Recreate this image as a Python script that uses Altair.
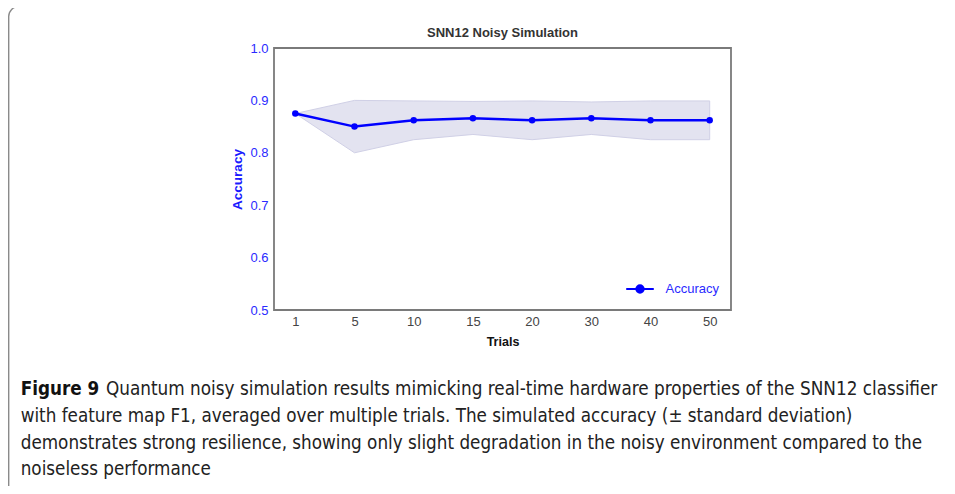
import altair as alt
import pandas as pd

trials = ["1", "5", "10", "15", "20", "30", "40", "50"]
accuracy = [0.875, 0.850, 0.862, 0.866, 0.862, 0.866, 0.862, 0.862]
upper = [0.875, 0.900, 0.899, 0.898, 0.899, 0.897, 0.899, 0.899]
lower = [0.875, 0.800, 0.825, 0.835, 0.825, 0.835, 0.825, 0.825]

title_text = "SNN12 Noisy Simulation"
x_title = "Trials"
y_title = "Accuracy"
series_name = "Accuracy"
caption_label = "Figure 9"
caption_lines = [
    "Quantum noisy simulation results mimicking real-time hardware properties of the SNN12 classifier",
    "with feature map F1, averaged over multiple trials. The simulated accuracy (\u00b1 standard deviation)",
    "demonstrates strong resilience, showing only slight degradation in the noisy environment compared to the",
    "noiseless performance",
]

df = pd.DataFrame({"Trials": trials, "Accuracy": accuracy, "upper": upper, "lower": lower,
                   "series": [series_name] * len(trials)})

W, H = 457, 262
PAD_L, PAD_T = 266, 40
CW, CH = 939, 478

FONT = "Liberation Sans"
xscale = alt.Scale(type="point", padding=0.36)
yscale = alt.Scale(domain=[0.5, 1.0])

xaxis = alt.Axis(labelAngle=0, labelColor="#444444", labelFontSize=13, labelPadding=5,
                 titleFontSize=12.5, titleColor="#111111", titleFontWeight="bold", titlePadding=7,
                 ticks=False, domain=False, grid=False, labelFont=FONT, titleFont=FONT)
yaxis = alt.Axis(values=[0.5, 0.6, 0.7, 0.8, 0.9, 1.0], format=".1f", labelColor="#2a2aff",
                 labelFontSize=13, labelPadding=6, titleColor="#1a1aff", titleFontSize=13.5,
                 titleFontWeight="bold", titlePadding=5, ticks=False, domain=False, grid=False,
                 labelFont=FONT, titleFont=FONT)

base = alt.Chart(df)

band = base.mark_area(color="#e3e3f0", opacity=1, stroke="#d0d0e6", strokeWidth=1).encode(
    x=alt.X("Trials:O", sort=trials, scale=xscale, axis=xaxis, title=x_title),
    y=alt.Y("upper:Q", scale=yscale, axis=yaxis, title=y_title),
    y2="lower:Q",
)

color = alt.Color("series:N", scale=alt.Scale(domain=[series_name], range=["#0000ff"]),
                  legend=alt.Legend(title=None, orient="none", legendX=351, legendY=226,
                                    symbolType="M-1,0L1,0M-0.26,0A0.26,0.26 0 1,0 0.26,0A0.26,0.26 0 1,0 -0.26,0",
                                    symbolSize=760, symbolStrokeWidth=2.2, symbolFillColor="#0000ff",
                                    symbolStrokeColor="#0000ff", labelColor="#2a2aff", labelFontSize=13,
                                    labelFont=FONT, labelOffset=10.5, padding=0))

line = base.mark_line(strokeWidth=2.5).encode(
    x=alt.X("Trials:O", sort=trials, scale=xscale),
    y=alt.Y("Accuracy:Q", scale=yscale),
    color=color,
)
pts = base.mark_point(filled=True, size=42, opacity=1).encode(
    x=alt.X("Trials:O", sort=trials, scale=xscale),
    y=alt.Y("Accuracy:Q", scale=yscale),
    color=alt.Color("series:N", scale=alt.Scale(domain=[series_name], range=["#0000ff"]), legend=None),
)

one = pd.DataFrame({"k": [0]})

box = alt.Chart(one).mark_rect(fill=None, stroke="#8a8a8a", strokeWidth=1.4, cornerRadius=10).encode(
    x=alt.value(-PAD_L + 0.7), x2=alt.value(CW - PAD_L + 40),
    y=alt.value(-PAD_T - 1.5), y2=alt.value(CH - PAD_T + 40),
)

title_mark = alt.Chart(one).mark_text(align="center", baseline="middle", fontSize=13, fontWeight="bold",
                                      font=FONT, color="#333333").encode(
    x=alt.value(W / 2), y=alt.value(-15.3), text=alt.value(title_text))

cap_font = "'DejaVu Sans Condensed', 'DejaVu Sans', sans-serif"
CAP_FS = 18.7
cap_bold = alt.Chart(one).mark_text(align="left", baseline="middle", fontSize=CAP_FS, fontWeight="bold",
                                    font=cap_font, color="#111111").encode(
    x=alt.value(-253.3), y=alt.value(341), text=alt.value(caption_label))
cap_first = alt.Chart(one).mark_text(align="left", baseline="middle", fontSize=18.75,
                                     font=cap_font, color="#222222").encode(
    x=alt.value(-168), y=alt.value(341), text=alt.value(caption_lines[0]))
cap_rest = alt.Chart(one).mark_text(align="left", baseline="middle", fontSize=CAP_FS, lineHeight=26.5,
                                    font=cap_font, color="#222222", lineBreak="\n").encode(
    x=alt.value(-253.3), y=alt.value(368), text=alt.value("\n".join(caption_lines[1:])))

chart = alt.layer(box, band, line, pts, title_mark, cap_bold, cap_first, cap_rest).properties(
    width=W, height=H,
    background="white",
    autosize=alt.AutoSizeParams(type="none"),
    padding={"left": PAD_L, "top": PAD_T, "right": CW - PAD_L - W, "bottom": CH - PAD_T - H},
).configure_view(stroke="#7a7a7a", strokeWidth=1.8)

chart.save("out.html", embed_options={"renderer": "svg", "actions": False})
